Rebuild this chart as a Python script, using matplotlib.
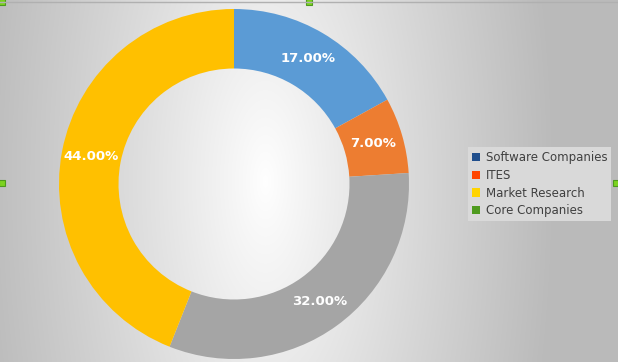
import numpy as np
import matplotlib
matplotlib.use('Agg')
from matplotlib import pyplot as plt
from matplotlib.patches import Rectangle

# Datos del gráfico
categorias = ['Software Companies', 'ITES', 'Market Research', 'Core Companies']
valores = [17, 7, 32, 44]
colores_sectores = ['#5B9BD5', '#ED7D31', '#A5A5A5', '#FFC000']
colores_leyenda = ['#1F4E8C', '#FF4500', '#FFD400', '#4E9A1E']

W, H = 618, 362
fig = plt.figure(figsize=(W / 100, H / 100), dpi=100)

# Fondo con degradado
bg = fig.add_axes([0, 0, 1, 1])
xx, yy = np.meshgrid(np.arange(W), np.arange(H))
t = np.clip(np.sqrt(((xx - 265) / 290.0) ** 2 + ((yy - 181) / 700.0) ** 2), 0, 1)
g = 1 - 0.27 * t ** 0.9
img = np.dstack([g, g, g])
bg.imshow(img, extent=[0, W, H, 0], aspect='auto')
bg.plot([0, W], [2, 2], color='#b0b0b0', lw=1)
for hx, hy in [(2, 2), (309, 2), (2, 183), (616, 183)]:
    bg.add_patch(Rectangle((hx - 3, hy - 3), 6, 6, facecolor='#7CD320', edgecolor='#4E9A1E', lw=0.8))
bg.set_xlim(0, W)
bg.set_ylim(H, 0)
bg.axis('off')

# Gráfico de dona
cx, cy, r = 234, 184, 175
ax = fig.add_axes([(cx - r) / W, 1 - (cy + r) / H, 2 * r / W, 2 * r / H])
wedges, _ = ax.pie(valores, colors=colores_sectores, startangle=90, counterclock=False,
                   radius=1, wedgeprops=dict(width=0.34, edgecolor='none'))
ax.set_aspect('equal')
ax.set_xlim(-1, 1)
ax.set_ylim(-1, 1)

total = sum(valores)
ang0 = 90
for v in valores:
    mid = np.deg2rad(ang0 - v / total * 180)
    ax.text(0.83 * np.cos(mid), 0.83 * np.sin(mid), f'{v:.2f}%', ha='center', va='center',
            color='white', fontsize=9.5, fontweight='bold')
    ang0 -= v / total * 360

# Leyenda
handles = [Rectangle((0, 0), 1, 1, facecolor=c) for c in colores_leyenda]
leg = fig.legend(handles, categorias, loc='upper left', bbox_to_anchor=(468 / W, 1 - 147 / H),
                 borderaxespad=0, frameon=True, fontsize=8.5, handlelength=0.7, handleheight=0.7,
                 handletextpad=0.45, labelspacing=0.4, borderpad=0.35, fancybox=False)
leg.get_frame().set_facecolor('#d9d9d9')
leg.get_frame().set_edgecolor('none')
leg.get_frame().set_alpha(1)
for txt in leg.get_texts():
    txt.set_color('#404040')

plt.savefig('out.png', dpi=100)
